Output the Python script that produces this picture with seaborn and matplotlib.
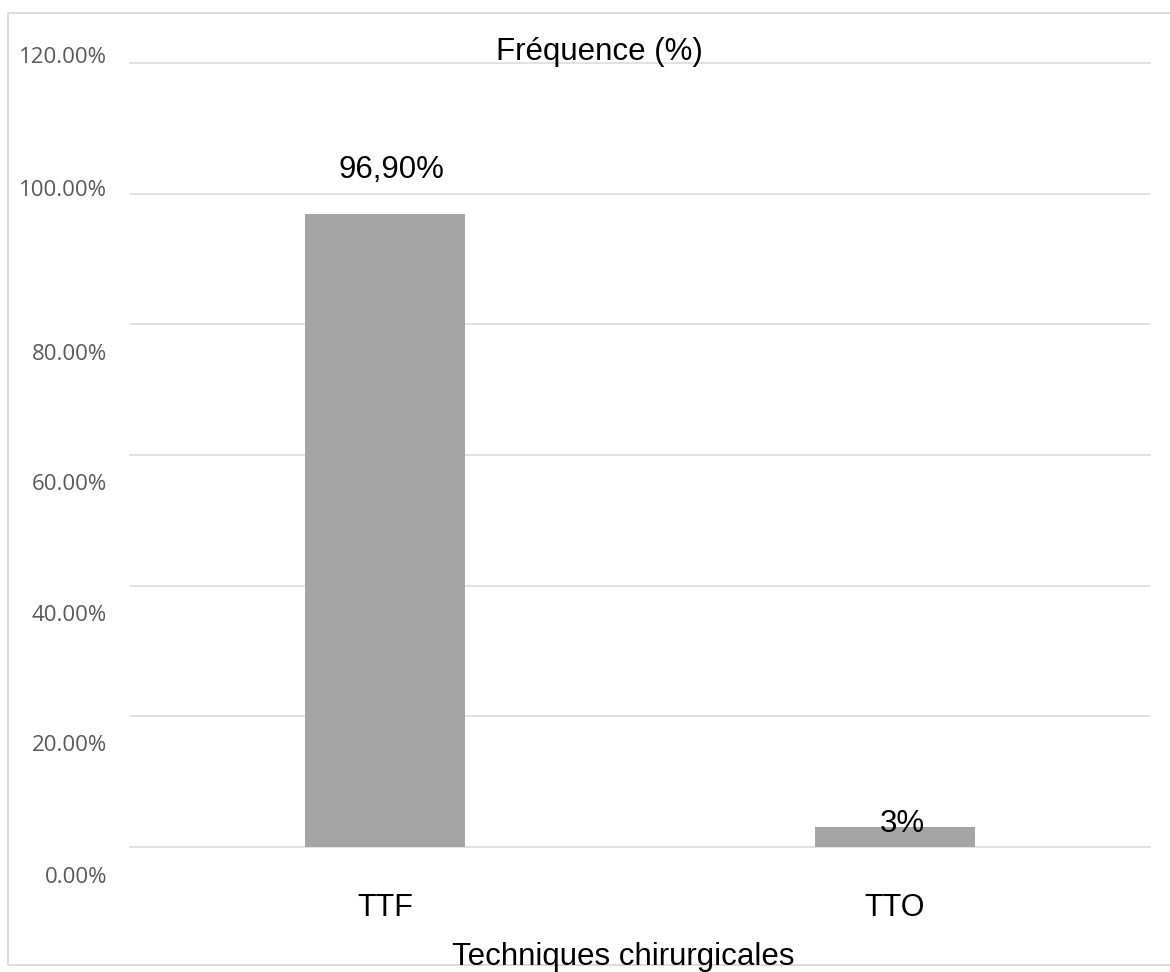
import numpy as np
import pandas as pd
import seaborn as sns
import matplotlib.pyplot as plt
from matplotlib.patches import Rectangle
from matplotlib.transforms import ScaledTranslation

# data
categories = ["TTF", "TTO"]
values = [96.9, 3.0]
value_labels = ["96,90%", "3%"]
y_ticks = [0, 20, 40, 60, 80, 100, 120]

df = pd.DataFrame({"technique": categories, "freq": values})

sns.set_style("white")
plt.rcParams["font.family"] = ["Liberation Sans", "DejaVu Sans"]

W, H = 1170, 972
fig = plt.figure(figsize=(W / 100, H / 100), dpi=100)
ax = fig.add_axes([130 / W, 125 / H, 1020 / W, 784 / H])

sns.barplot(data=df, x="technique", y="freq", color="#A5A5A5",
            saturation=1, width=0.314, linewidth=0, ax=ax)

ax.set_ylim(0, 120)
ax.set_yticks(y_ticks)
ax.set_yticklabels([f"{t:.2f}%" for t in y_ticks])
ax.set_xlabel("")
ax.set_ylabel("")
for s in ax.spines.values():
    s.set_visible(False)

ax.yaxis.grid(True, color="#D9D9D9", linewidth=1.1)
ax.set_axisbelow(True)
for gl in ax.get_ygridlines():
    gl.set_clip_on(False)

ax.tick_params(axis="y", length=0, pad=16.5, labelsize=16,
               labelcolor="#595959")
ax.tick_params(axis="x", length=0, pad=33, labelsize=22, labelcolor="black")
for lab in ax.get_yticklabels():
    lab.set_fontfamily(["Open Sans", "DejaVu Sans"])

# the reference draws its y labels a bit off the gridlines
label_shift_px = [28, 27, 27, 27, 28, -6, -8]
for lab, dy in zip(ax.get_yticklabels(), label_shift_px):
    lab.set_transform(lab.get_transform() +
                      ScaledTranslation(0, -dy / 100, fig.dpi_scale_trans))

# value labels
label_offsets = [(4.5, 26), (5.5, -3)]
for i, (v, txt) in enumerate(zip(values, value_labels)):
    ax.annotate(txt, xy=(i, v), xytext=label_offsets[i],
                textcoords="offset points", ha="center", va="baseline",
                fontsize=22.5, color="black")

fig.text(599 / W, (H - 60) / H, "Fréquence (%)", ha="center",
         va="baseline", fontsize=22.5, color="black")
fig.text(623 / W, (H - 965) / H, "Techniques chirurgicales", ha="center",
         va="baseline", fontsize=22.5, color="black")

# light border around the chart
fig.patches.append(Rectangle((8 / W, 7 / H), 1.0, (965 - 13) / H,
                             transform=fig.transFigure, fill=False,
                             edgecolor="#D9D9D9", linewidth=1.3))

fig.savefig("out.png", dpi=100)
